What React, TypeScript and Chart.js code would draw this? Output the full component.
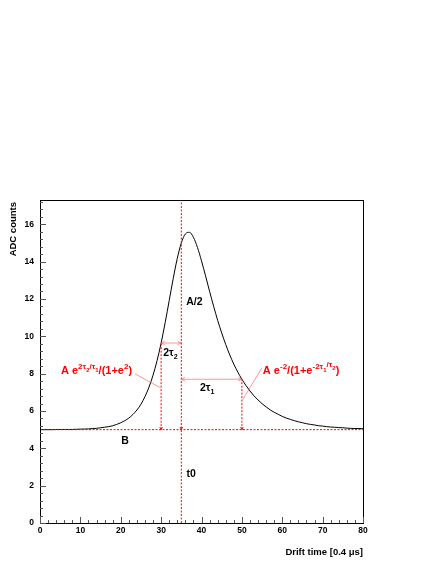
import React, { useEffect, useRef } from "react";
import { Chart, registerables } from "chart.js";

Chart.register(...registerables);

// Drift time samples (units of 0.4 µs)
const driftTime = [
  0, 1, 2, 3, 4, 5, 6, 7, 8, 9, 10, 11, 12, 13, 14, 15, 16, 17, 18, 19, 20,
  21, 22, 23, 24, 25, 26, 27, 28, 29, 30, 31, 32, 33, 34, 35, 36, 37, 38, 39, 40,
  41, 42, 43, 44, 45, 46, 47, 48, 49, 50, 51, 52, 53, 54, 55, 56, 57, 58, 59, 60,
  61, 62, 63, 64, 65, 66, 67, 68, 69, 70, 71, 72, 73, 74, 75, 76, 77, 78, 79, 80,
];

// ADC counts
const adcCounts = [
  5.0, 5.0, 5.0, 5.0, 5.01, 5.01, 5.01, 5.01, 5.01, 5.02, 5.03, 5.03, 5.04, 5.06, 5.07, 5.1,
  5.13, 5.16, 5.21, 5.28, 5.37, 5.48, 5.62, 5.81, 6.05, 6.36, 6.77, 7.28, 7.92, 8.7, 9.64,
  10.73, 11.91, 13.1, 14.17, 15.0, 15.48, 15.57, 15.3, 14.76, 14.04, 13.24, 12.41, 11.61,
  10.86, 10.18, 9.56, 9.0, 8.51, 8.08, 7.7, 7.37, 7.07, 6.81, 6.59, 6.39, 6.22, 6.06, 5.93,
  5.82, 5.71, 5.62, 5.55, 5.48, 5.42, 5.37, 5.32, 5.28, 5.25, 5.21, 5.19, 5.16, 5.14, 5.13,
  5.11, 5.1, 5.08, 5.07, 5.06, 5.06, 5.05,
];

// Fit parameters marked on the plot
const t0Value = [35];
const baselineValue = [5];
const riseMark = [30, 9.64]; // t0 - 2tau2, value there
const fallMark = [50, 7.7]; // t0 + 2tau1, value there

const X_MIN = 0;
const X_MAX = 80;
const Y_MIN = 0;
const Y_MAX = 17.3;

const RED = "#ff0000";
const PINK = "rgba(255,80,80,0.6)";
const FONT = "'Liberation Sans', Arial, Helvetica, sans-serif";

type Seg = { t: string; s: number; dy: number };

const annotations: { x: number; y: number; color: string; segs: Seg[] }[] = [
  { x: 36.2, y: 11.87, color: "#000", segs: [{ t: "A/2", s: 10.5, dy: 0 }] },
  { x: 30.5, y: 9.14, color: "#000", segs: [{ t: "2τ", s: 10.5, dy: 0 }, { t: "2", s: 7, dy: 3 }] },
  { x: 39.6, y: 7.25, color: "#000", segs: [{ t: "2τ", s: 10.5, dy: 0 }, { t: "1", s: 7, dy: 3 }] },
  { x: 20.1, y: 4.46, color: "#000", segs: [{ t: "B", s: 10.5, dy: 0 }] },
  { x: 36.3, y: 2.69, color: "#000", segs: [{ t: "t0", s: 10.5, dy: 0 }] },
  {
    x: 5.2,
    y: 8.17,
    color: RED,
    segs: [
      { t: "A e", s: 11, dy: 0 },
      { t: "2τ", s: 8, dy: -5 },
      { t: "2", s: 6, dy: -2.5 },
      { t: "/τ", s: 8, dy: -5 },
      { t: "1", s: 6, dy: -2.5 },
      { t: "/(1+e", s: 11, dy: 0 },
      { t: "2", s: 8, dy: -5 },
      { t: ")", s: 11, dy: 0 },
    ],
  },
  {
    x: 55.2,
    y: 8.17,
    color: RED,
    segs: [
      { t: "A e", s: 11, dy: 0 },
      { t: "-2", s: 8, dy: -5 },
      { t: "/(1+e", s: 11, dy: 0 },
      { t: "-2τ", s: 8, dy: -5 },
      { t: "1", s: 6, dy: -2.5 },
      { t: "/τ", s: 8, dy: -7 },
      { t: "2", s: 6, dy: -4.5 },
      { t: ")", s: 11, dy: 0 },
    ],
  },
];

const connectors = [
  [23.5, 7.99, 29.8, 7.25],
  [55.0, 8.32, 50.2, 6.6],
];

function drawArrowHead(ctx: CanvasRenderingContext2D, x: number, y: number, ang: number, len: number) {
  ctx.beginPath();
  ctx.moveTo(x + len * Math.cos(ang + Math.PI - 0.45), y + len * Math.sin(ang + Math.PI - 0.45));
  ctx.lineTo(x, y);
  ctx.lineTo(x + len * Math.cos(ang + Math.PI + 0.45), y + len * Math.sin(ang + Math.PI + 0.45));
  ctx.stroke();
}

function drawDoubleArrow(ctx: CanvasRenderingContext2D, x1: number, y1: number, x2: number, y2: number) {
  ctx.beginPath();
  ctx.moveTo(x1, y1);
  ctx.lineTo(x2, y2);
  ctx.stroke();
  const ang = Math.atan2(y2 - y1, x2 - x1);
  drawArrowHead(ctx, x2, y2, ang, 4);
  drawArrowHead(ctx, x1, y1, ang + Math.PI, 4);
}

const decorPlugin = {
  id: "decor",
  afterDatasetsDraw(chart: any) {
    const ctx: CanvasRenderingContext2D = chart.ctx;
    const xs = chart.scales.x;
    const ys = chart.scales.y;
    const ca = chart.chartArea;
    const px = (v: number) => xs.getPixelForValue(v);
    const py = (v: number) => ys.getPixelForValue(v);
    ctx.save();

    // arrows (pink, double headed)
    ctx.strokeStyle = PINK;
    ctx.lineWidth = 1;
    drawDoubleArrow(ctx, px(riseMark[0]), py(riseMark[1]), px(t0Value[0]), py(riseMark[1]));
    drawDoubleArrow(ctx, px(t0Value[0]), py(fallMark[1]), px(fallMark[0]), py(fallMark[1]));

    // connector lines
    for (const c of connectors) {
      ctx.beginPath();
      ctx.moveTo(px(c[0]), py(c[1]));
      ctx.lineTo(px(c[2]), py(c[3]));
      ctx.stroke();
    }

    // small red arrow tips at the baseline
    ctx.strokeStyle = RED;
    drawArrowHead(ctx, px(riseMark[0]), py(baselineValue[0]), Math.PI / 2, 3);
    drawArrowHead(ctx, px(fallMark[0]), py(baselineValue[0]), Math.PI / 2, 3);
    drawArrowHead(ctx, px(t0Value[0]), py(baselineValue[0]), Math.PI / 2, 3);

    // text annotations
    ctx.textBaseline = "alphabetic";
    ctx.textAlign = "left";
    for (const a of annotations) {
      let x = px(a.x);
      const y = py(a.y) + 3.8;
      ctx.fillStyle = a.color;
      for (const s of a.segs) {
        ctx.font = `bold ${s.s}px ${FONT}`;
        ctx.fillText(s.t, x, y + s.dy);
        x += ctx.measureText(s.t).width;
      }
    }

    // frame
    ctx.strokeStyle = "#000";
    ctx.lineWidth = 1;
    ctx.strokeRect(Math.round(ca.left) + 0.5, Math.round(ca.top) + 0.5, Math.round(ca.right - ca.left), Math.round(ca.bottom - ca.top));

    // tick marks (inside the frame)
    ctx.strokeStyle = "#555";
    ctx.beginPath();
    for (let i = 0; ; i++) {
      const v = Y_MIN + i * 0.4;
      if (v > Y_MAX + 1e-6) break;
      const major = i % 5 === 0;
      const y = Math.round(py(v)) + 0.5;
      ctx.moveTo(ca.left, y);
      ctx.lineTo(ca.left + (major ? 6 : 3), y);
    }
    for (let i = 0; ; i++) {
      const v = X_MIN + i * 2;
      if (v > X_MAX + 1e-6) break;
      const major = i % 5 === 0;
      const x = Math.round(px(v)) + 0.5;
      ctx.moveTo(x, ca.bottom);
      ctx.lineTo(x, ca.bottom - (major ? 6 : 3));
    }
    ctx.stroke();
    ctx.restore();
  },
  afterDraw(chart: any) {
    const ctx: CanvasRenderingContext2D = chart.ctx;
    const ca = chart.chartArea;
    ctx.save();
    ctx.fillStyle = "#000";
    ctx.font = `bold 9.5px ${FONT}`;
    // y title, right-aligned to the top of the axis
    ctx.translate(13, ca.top + 2);
    ctx.rotate(-Math.PI / 2);
    ctx.textAlign = "right";
    ctx.textBaseline = "middle";
    ctx.fillText("ADC counts", 0, 0);
    ctx.restore();
    ctx.save();
    ctx.fillStyle = "#000";
    ctx.font = `bold 9.5px ${FONT}`;
    ctx.textAlign = "right";
    ctx.textBaseline = "middle";
    ctx.fillText("Drift time [0.4 μs]", ca.right, 552);
    ctx.restore();
  },
};

export default function App() {
  const ref = useRef<HTMLCanvasElement | null>(null);
  useEffect(() => {
    if (!ref.current) return;
    const curve = driftTime.map((t, i) => ({ x: t, y: adcCounts[i] }));
    const dashed = {
      borderColor: RED,
      borderWidth: 1,
      borderDash: [2, 1.5],
      pointRadius: 0,
      fill: false,
      tension: 0,
    };
    const chart = new Chart(ref.current, {
      type: "line",
      data: {
        datasets: [
          { ...dashed, data: [{ x: t0Value[0], y: Y_MIN }, { x: t0Value[0], y: Y_MAX }] },
          { ...dashed, data: [{ x: X_MIN, y: baselineValue[0] }, { x: X_MAX, y: baselineValue[0] }] },
          { ...dashed, data: [{ x: riseMark[0], y: baselineValue[0] }, { x: riseMark[0], y: riseMark[1] }] },
          { ...dashed, data: [{ x: fallMark[0], y: baselineValue[0] }, { x: fallMark[0], y: fallMark[1] }] },
          {
            data: curve,
            borderColor: "#000",
            borderWidth: 1,
            pointRadius: 0,
            fill: false,
            cubicInterpolationMode: "monotone",
          },
        ],
      },
      options: {
        animation: false,
        responsive: false,
        devicePixelRatio: 1,
        events: [],
        layout: { padding: { top: 200, right: 73, left: 0, bottom: 0 } },
        plugins: { legend: { display: false }, tooltip: { enabled: false }, title: { display: false } },
        scales: {
          x: {
            type: "linear",
            min: X_MIN,
            max: X_MAX,
            grid: { display: false, drawTicks: false },
            border: { display: false },
            ticks: {
              stepSize: 10,
              padding: 3,
              color: "#000",
              maxRotation: 0,
              font: { family: FONT, size: 8.5, weight: "bold" },
            },
            afterFit: (s: any) => {
              s.height = 41;
            },
          },
          y: {
            type: "linear",
            min: Y_MIN,
            max: Y_MAX,
            grid: { display: false, drawTicks: false },
            border: { display: false },
            ticks: {
              stepSize: 2,
              includeBounds: false,
              padding: 6,
              color: "#000",
              font: { family: FONT, size: 8.5, weight: "bold" },
            },
            afterFit: (s: any) => {
              s.width = 40;
            },
          },
        },
      } as any,
      plugins: [decorPlugin],
    });
    return () => chart.destroy();
  }, []);
  return (
    <div style={{ position: "absolute", left: 0, top: 0, width: 436, height: 564, background: "#fff" }}>
      <canvas ref={ref} width={436} height={564} style={{ display: "block", width: 436, height: 564 }} />
    </div>
  );
}
